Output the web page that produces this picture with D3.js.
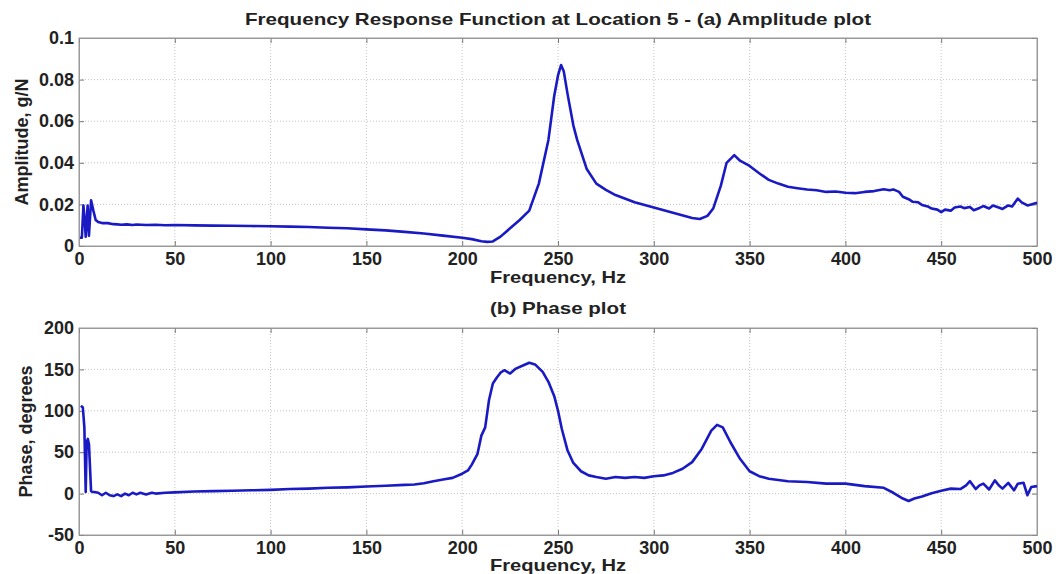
<!DOCTYPE html>
<html>
<head>
<meta charset="utf-8">
<script src="https://cdn.jsdelivr.net/npm/d3@7"></script>
<style>
  body { margin: 0; background: #fff; }
  svg { display: block; font-family: "Liberation Sans", Arial, sans-serif; }
  .tick text { font-size: 18px; font-weight: bold; fill: #222; }
  .lbl { font-size: 18px; font-weight: bold; fill: #222; }
</style>
</head>
<body>
<div class="container"></div>
<script>
// amplitude plot (a)
var ampFreq = [0.5,1.5,2.3,3,3.5,4.5,5.2,6.3,7.5,8.7,10,12,15,18,20,22,25,28,30,35,40,45,50,60,70,80,90,100,
  110,120,130,140,150,160,170,180,190,200,205,210,213,216,220,225,230,235,240,245,248,250,251.6,253,255,258,
  260,265,270,275,280,290,300,310,320,324,328,331,335,338,342,345,350,355,360,365,370,375,380,385,390,395,
  400,405,410,415,420,423,425,428,430,433,435,438,440,443,445,448,450,452,455,457,460,462,465,467,470,472,
  475,477,480,482,485,487,490,492,495,497,500];
var ampVal = [0.004,0.004,0.0195,0.012,0.0045,0.0195,0.005,0.022,0.017,0.0125,0.0115,0.011,0.011,0.0105,
  0.0104,0.0102,0.0104,0.0101,0.0103,0.0101,0.0102,0.0100,0.0101,0.0099,0.0098,0.0097,0.0096,0.0095,
  0.0093,0.0091,0.0088,0.0085,0.0080,0.0075,0.0068,0.0060,0.0050,0.0040,0.0033,0.0023,0.0020,0.0022,
  0.0045,0.0085,0.0125,0.017,0.030,0.051,0.072,0.082,0.087,0.084,0.073,0.058,
  0.051,0.037,0.030,0.027,0.0245,0.021,0.0185,0.016,0.0135,0.013,0.0145,0.018,0.029,0.040,0.0437,0.041,
  0.0385,0.035,0.0318,0.030,0.0285,0.0278,0.0272,0.0268,0.026,0.0262,
  0.0256,0.0254,0.026,0.0264,0.0273,0.0268,0.0272,0.026,0.0237,0.0225,0.0213,0.021,0.0197,0.019,0.018,
  0.0175,0.0163,0.0175,0.017,0.0185,0.019,0.0182,0.0188,0.0172,0.0183,0.0192,
  0.018,0.0195,0.0185,0.0178,0.0195,0.019,0.0228,0.021,0.0195,0.020,0.0208];

// phase plot (b)
var phFreq = [1,2,2.8,3.5,4,4.6,5.2,6.3,7,8,10,12,14,16,18,20,22,24,26,28,30,32,35,38,40,45,50,60,70,80,90,
  100,110,120,130,140,150,160,170,175,180,185,190,195,200,203,205,208,210,212,214,216,218,220,222,225,228,
  232,235,238,242,245,248,250,252,255,258,262,266,270,275,280,285,290,295,300,305,310,315,320,325,330,333,
  336,340,345,350,355,360,370,380,390,400,410,420,425,430,433,436,440,445,450,455,460,463,465,468,470,472,
  475,478,480,482,485,488,490,493,495,497,500];
var phVal = [106,104,80,2,62,66,60,3,2,2,1,-2,1,-2,-3,-1,-3,0,-2,1,-1,1,-1,1,0,1,1.5,2.5,3,3.5,4,
  4.5,5.5,6,7,7.5,8.5,9.5,10.5,11,12.5,15,17,19,24,28,35,48,70,80,113,133,140,146,149,145,151,
  155,158,156,147,135,118,100,78,52,37,27,22,20,18,20,19,20,19,21,22,25,30,38,54,76,83,
  80,62,42,27,21,18,15,14,12,12,9,7,1,-6,-9,-6,-3.5,0.5,3.5,6,5.5,10,15,5.5,10,12,
  5,16,10,6,13,4,12,13,-2,8,9];

var xTicks = [0,50,100,150,200,250,300,350,400,450,500];
var ampTicks = [0,0.02,0.04,0.06,0.08,0.1];
var phTicks = [-50,0,50,100,150,200];

var W = 1056, H = 574;
var svg = d3.select(".container").append("svg").attr("width", W).attr("height", H);

function drawPanel(top, bottom, freq, vals, yDomain, yTicks, yFmt, title, titleY, titleW, yLabel, yLabelX, xLabelY) {
  var x = d3.scaleLinear().domain([0, 500]).range([79, 1037]);
  var y = d3.scaleLinear().domain(yDomain).range([bottom, top]);
  var g = svg.append("g");

  // grid
  g.selectAll(".gx").data(xTicks.slice(1, -1)).enter().append("line")
    .attr("x1", d => x(d)).attr("x2", d => x(d)).attr("y1", top).attr("y2", bottom)
    .style("stroke", "#c4c4c4").style("stroke-dasharray", "1,2");
  g.selectAll(".gy").data(yTicks.slice(1, -1)).enter().append("line")
    .attr("y1", d => y(d)).attr("y2", d => y(d)).attr("x1", 79).attr("x2", 1037)
    .style("stroke", "#c4c4c4").style("stroke-dasharray", "1,2");

  // axes, ticks inward
  g.append("g").attr("transform", "translate(0," + bottom + ")")
    .call(d3.axisBottom(x).tickValues(xTicks).tickSizeInner(-5).tickSizeOuter(0).tickPadding(6));
  g.append("g").attr("transform", "translate(79,0)")
    .call(d3.axisLeft(y).tickValues(yTicks).tickFormat(yFmt).tickSizeInner(-5).tickSizeOuter(0).tickPadding(5));
  g.append("g").attr("transform", "translate(0," + top + ")")
    .call(d3.axisTop(x).tickValues(xTicks).tickSizeInner(-5).tickSizeOuter(0).tickFormat(""));
  g.append("g").attr("transform", "translate(1037,0)")
    .call(d3.axisRight(y).tickValues(yTicks).tickSizeInner(-5).tickSizeOuter(0).tickFormat(""));
  g.selectAll(".domain").style("stroke", "#9a9a9a");
  g.selectAll(".tick line").style("stroke", "#777");

  g.append("rect").attr("x", 79).attr("y", top).attr("width", 958).attr("height", bottom - top)
    .style("fill", "none").style("stroke", "#9a9a9a");

  var line = d3.line().x((d, i) => x(freq[i])).y(d => y(d));
  g.append("path").datum(vals).attr("d", line)
    .style("fill", "none").style("stroke", "#1a1ac4").style("stroke-width", 2.6)
    .style("stroke-linejoin", "round");

  g.append("text").attr("class", "lbl").attr("x", 558).attr("y", titleY)
    .attr("text-anchor", "middle").style("font-size", "17px")
    .attr("textLength", titleW).attr("lengthAdjust", "spacingAndGlyphs").text(title);
  g.append("text").attr("class", "lbl").attr("x", 558).attr("y", xLabelY)
    .attr("text-anchor", "middle").style("font-size", "17px")
    .attr("textLength", 136).attr("lengthAdjust", "spacingAndGlyphs").text("Frequency, Hz");
  g.append("text").attr("class", "lbl")
    .attr("transform", "translate(" + yLabelX + "," + ((top + bottom) / 2) + ") rotate(-90)")
    .attr("text-anchor", "middle").text(yLabel);
}

var fmtPh = function(d) { return String(d); };

drawPanel(38, 246, ampFreq, ampVal, [0, 0.1], ampTicks, d3.format("~g"),
  "Frequency Response Function at Location 5 - (a) Amplitude plot", 25, 626, "Amplitude, g/N", 28, 283);
drawPanel(328, 535, phFreq, phVal, [-50, 200], phTicks, fmtPh,
  "(b) Phase plot", 314, 136, "Phase, degrees", 32, 571);
</script>
</body>
</html>
